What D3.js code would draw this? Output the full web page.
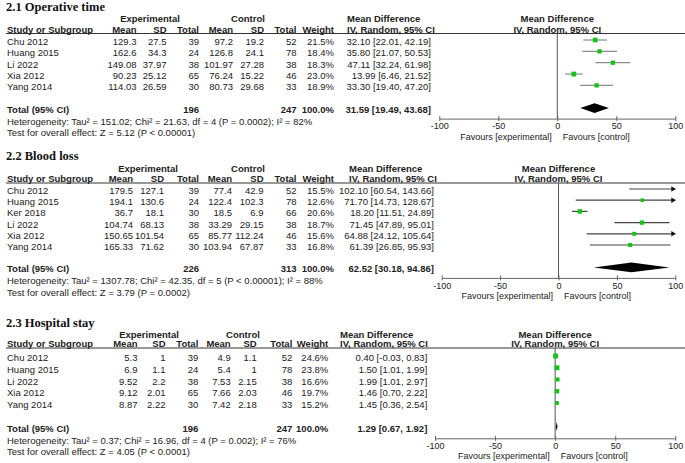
<!DOCTYPE html>
<html>
<head>
<meta charset="utf-8">
<script src="https://cdn.jsdelivr.net/npm/d3@7"></script>
<style>
  body { margin: 0; background: #fff; }
  text { font-family: "Liberation Sans", Arial, sans-serif; font-size: 9.5px; fill: #222; }
  .title { font-family: "Liberation Serif", "Times New Roman", serif; font-size: 12.5px; font-weight: bold; fill: #111; }
  .b { font-weight: bold; }
  .small { font-size: 9px; }
</style>
</head>
<body>
<svg id="chart"></svg>
<script>
const titles = ["2.1 Operative time", "2.2 Blood loss", "2.3 Hospital stay"];
const axisTicks = [-100, -50, 0, 50, 100];

// 2.1 Operative time
const opStudy = ["Chu 2012", "Huang 2015", "Li 2022", "Xia 2012", "Yang 2014"];
const opExpMean = [129.3, 162.6, 149.08, 90.23, 114.03];
const opExpSD = [27.5, 34.3, 37.97, 25.12, 26.59];
const opExpN = [39, 24, 38, 65, 30];
const opCtlMean = [97.2, 126.8, 101.97, 76.24, 80.73];
const opCtlSD = [19.2, 24.1, 27.28, 15.22, 29.68];
const opCtlN = [52, 78, 38, 46, 33];
const opWeight = [21.5, 18.4, 18.3, 23.0, 18.9];
const opMD = [32.10, 35.80, 47.11, 13.99, 33.30];
const opLo = [22.01, 21.07, 32.24, 6.46, 19.40];
const opHi = [42.19, 50.53, 61.98, 21.52, 47.20];
const opTotalN = [196, 247];
const opTotalMD = [31.59, 19.49, 43.68];
const opHet = "Heterogeneity: Tau² = 151.02; Chi² = 21.63, df = 4 (P = 0.0002); I² = 82%";
const opTest = "Test for overall effect: Z = 5.12 (P < 0.00001)";

// 2.2 Blood loss
const blStudy = ["Chu 2012", "Huang 2015", "Ker 2018", "Li 2022", "Xia 2012", "Yang 2014"];
const blExpMean = [179.5, 194.1, 36.7, 104.74, 150.65, 165.33];
const blExpSD = [127.1, 130.6, 18.1, 68.13, 101.54, 71.62];
const blExpN = [39, 24, 30, 38, 65, 30];
const blCtlMean = [77.4, 122.4, 18.5, 33.29, 85.77, 103.94];
const blCtlSD = [42.9, 102.3, 6.9, 29.15, 112.24, 67.87];
const blCtlN = [52, 78, 66, 38, 46, 33];
const blWeight = [15.5, 12.6, 20.6, 18.7, 15.6, 16.8];
const blMD = [102.10, 71.70, 18.20, 71.45, 64.88, 61.39];
const blLo = [60.54, 14.73, 11.51, 47.89, 24.12, 26.85];
const blHi = [143.66, 128.67, 24.89, 95.01, 105.64, 95.93];
const blTotalN = [226, 313];
const blTotalMD = [62.52, 30.18, 94.86];
const blHet = "Heterogeneity: Tau² = 1307.78; Chi² = 42.35, df = 5 (P < 0.00001); I² = 88%";
const blTest = "Test for overall effect: Z = 3.79 (P = 0.0002)";

// 2.3 Hospital stay
const hsStudy = ["Chu 2012", "Huang 2015", "Li 2022", "Xia 2012", "Yang 2014"];
const hsExpMean = [5.3, 6.9, 9.52, 9.12, 8.87];
const hsExpSD = [1, 1.1, 2.2, 2.01, 2.22];
const hsExpN = [39, 24, 38, 65, 30];
const hsCtlMean = [4.9, 5.4, 7.53, 7.66, 7.42];
const hsCtlSD = [1.1, 1, 2.15, 2.03, 2.18];
const hsCtlN = [52, 78, 38, 46, 33];
const hsWeight = [24.6, 23.8, 16.6, 19.7, 15.2];
const hsMD = [0.40, 1.50, 1.99, 1.46, 1.45];
const hsLo = [-0.03, 1.01, 1.01, 0.70, 0.36];
const hsHi = [0.83, 1.99, 2.97, 2.22, 2.54];
const hsTotalN = [196, 247];
const hsTotalMD = [1.29, 0.67, 1.92];
const hsHet = "Heterogeneity: Tau² = 0.37; Chi² = 16.96, df = 4 (P = 0.002); I² = 76%";
const hsTest = "Test for overall effect: Z = 4.05 (P < 0.0001)";

const width = 685, height = 463;
const svg = d3.select("#chart").attr("width", width).attr("height", height);

function rows(study, em, es, en, cm, cs, cn, w, md, lo, hi) {
  return study.map((s, i) => ({
    study: s, cells: [em[i], es[i], en[i], cm[i], cs[i], cn[i], w[i].toFixed(1) + "%"],
    weight: w[i], md: md[i], lo: lo[i], hi: hi[i]
  }));
}

const panels = [
  { title: titles[0], rows: rows(opStudy, opExpMean, opExpSD, opExpN, opCtlMean, opCtlSD, opCtlN, opWeight, opMD, opLo, opHi),
    totalN: opTotalN, totalMD: opTotalMD, het: opHet, test: opTest,
    L: 33.5, row0: 40, step: 11.35, titleUp: 23, groupUp: 12,
    cols: [136.5, 166.5, 199, 233, 264, 296.5, 334], mdX: 431, mdHeadX: 347,
    range: [439.3, 675.3], expC: 150, ctlC: 248, ci: "#8c8c8c", axisGap: 10.5 },
  { title: titles[1], rows: rows(blStudy, blExpMean, blExpSD, blExpN, blCtlMean, blCtlSD, blCtlN, blWeight, blMD, blLo, blHi),
    totalN: blTotalN, totalMD: blTotalMD, het: blHet, test: blTest,
    L: 183, row0: 189, step: 11.2, titleUp: 23, groupUp: 11.5,
    cols: [133, 164, 199, 232, 263.5, 296.5, 334], mdX: 434, mdHeadX: 349,
    range: [441.7, 675.3], expC: 148, ctlC: 248, ci: "#444", axisGap: 10.5 },
  { title: titles[2], rows: rows(hsStudy, hsExpMean, hsExpSD, hsExpN, hsCtlMean, hsCtlSD, hsCtlN, hsWeight, hsMD, hsLo, hsHi),
    totalN: hsTotalN, totalMD: hsTotalMD, het: hsHet, test: hsTest,
    L: 348, row0: 356, step: 11.75, titleUp: 21, groupUp: 10.5,
    cols: [137.5, 165.5, 198.3, 230.7, 256.7, 292.3, 328.3], mdX: 427.3, mdHeadX: 340,
    range: [435, 675.3], expC: 149, ctlC: 243, ci: "#555", axisGap: 11.8 }
];

const fmtCI = (m, l, h) => `${m.toFixed(2)} [${l.toFixed(2)}, ${h.toFixed(2)}]`;

panels.forEach(p => {
  const g = svg.append("g");
  const x = d3.scaleLinear().domain([-100, 100]).range(p.range);
  const x0 = x(0);
  const y = i => p.row0 + i * p.step;
  const totalY = y(p.rows.length + 1);
  const axisY = totalY + p.axisGap;

  // headings
  g.append("text").attr("class", "title").attr("x", 6).attr("y", p.L - p.titleUp).text(p.title);
  const gy = p.L - p.groupUp;
  g.append("text").attr("class", "b").attr("x", p.expC).attr("y", gy).attr("text-anchor", "middle").text("Experimental");
  g.append("text").attr("class", "b").attr("x", p.ctlC).attr("y", gy).attr("text-anchor", "middle").text("Control");
  g.append("text").attr("class", "b").attr("x", p.mdHeadX).attr("y", gy).text("Mean Difference");
  g.append("text").attr("class", "b").attr("x", x0).attr("y", gy).attr("text-anchor", "middle").text("Mean Difference");

  const hy = p.L - 0.8;
  g.append("text").attr("class", "b").attr("x", 7).attr("y", hy).text("Study or Subgroup");
  ["Mean", "SD", "Total", "Mean", "SD", "Total", "Weight"].forEach((h, j) => {
    g.append("text").attr("class", "b").attr("x", p.cols[j]).attr("y", hy).attr("text-anchor", "end").text(h);
  });
  g.append("text").attr("class", "b").attr("x", p.mdHeadX).attr("y", hy).text("IV, Random, 95% CI");
  g.append("text").attr("class", "b").attr("x", x0).attr("y", hy).attr("text-anchor", "middle").text("IV, Random, 95% CI");

  g.append("line").attr("x1", 6).attr("x2", width).attr("y1", p.L).attr("y2", p.L)
    .attr("stroke", "#333").attr("stroke-width", 1);

  // study rows
  p.rows.forEach((r, i) => {
    const ty = y(i) + 5;
    g.append("text").attr("x", 7).attr("y", ty).text(r.study);
    r.cells.forEach((c, j) => {
      g.append("text").attr("x", p.cols[j]).attr("y", ty).attr("text-anchor", "end").text(c);
    });
    g.append("text").attr("x", p.mdX).attr("y", ty).attr("text-anchor", "end").text(fmtCI(r.md, r.lo, r.hi));
  });

  // total rows
  const tty = totalY + 5;
  g.append("text").attr("class", "b").attr("x", 7).attr("y", tty).text("Total (95% CI)");
  g.append("text").attr("class", "b").attr("x", p.cols[2]).attr("y", tty).attr("text-anchor", "end").text(p.totalN[0]);
  g.append("text").attr("class", "b").attr("x", p.cols[5]).attr("y", tty).attr("text-anchor", "end").text(p.totalN[1]);
  g.append("text").attr("class", "b").attr("x", p.cols[6]).attr("y", tty).attr("text-anchor", "end").text("100.0%");
  g.append("text").attr("class", "b").attr("x", p.mdX).attr("y", tty).attr("text-anchor", "end")
    .text(fmtCI(p.totalMD[0], p.totalMD[1], p.totalMD[2]));
  g.append("text").attr("x", 7).attr("y", totalY + 17).text(p.het);
  g.append("text").attr("x", 7).attr("y", totalY + 28.3).text(p.test);

  // zero line
  g.append("line").attr("x1", x0).attr("x2", x0).attr("y1", p.L).attr("y2", axisY)
    .attr("stroke", "#555").attr("stroke-width", 1);

  // confidence intervals
  const [dmin, dmax] = x.domain();
  p.rows.forEach((r, i) => {
    const yy = y(i);
    const lo = Math.max(r.lo, dmin), hi = Math.min(r.hi, dmax);
    g.append("line").attr("x1", x(lo)).attr("x2", x(hi)).attr("y1", yy).attr("y2", yy)
      .attr("stroke", p.ci).attr("stroke-width", 1.2);
    if (r.hi > dmax) {
      const ax = x(dmax);
      g.append("path").attr("d", `M${ax - 4},${yy - 2.8}L${ax + 0.5},${yy}L${ax - 4},${yy + 2.8}Z`).attr("fill", "#111");
    }
    if (r.md >= dmin && r.md <= dmax) {
      const s = Math.sqrt(r.weight);
      g.append("rect").attr("x", x(r.md) - s / 2).attr("y", yy - s / 2).attr("width", s).attr("height", s)
        .attr("fill", "#14c414");
    }
  });

  // pooled diamond
  const [m, l, h] = p.totalMD;
  g.append("path")
    .attr("d", `M${x(l)},${totalY}L${x(m)},${totalY - 4.8}L${x(h)},${totalY}L${x(m)},${totalY + 4.8}Z`)
    .attr("fill", "#000");

  // axis
  const ax = g.append("g").attr("transform", `translate(0,${axisY})`)
    .call(d3.axisBottom(x).tickValues(axisTicks).tickFormat(d3.format("d")).tickSizeOuter(0));
  ax.attr("font-size", null).attr("font-family", null);
  ax.select(".domain").attr("stroke", "#666");
  ax.selectAll(".tick line").attr("y1", -2.5).attr("y2", 2.5).attr("stroke", "#666");
  ax.selectAll(".tick text").attr("class", "small").attr("y", 7.5).attr("dy", "0.35em").text(d => d);

  const fy = axisY + 21;
  g.append("text").attr("class", "small").attr("x", x0 - 5.5).attr("y", fy).attr("text-anchor", "end").text("Favours [experimental]");
  g.append("text").attr("class", "small").attr("x", x0 + 5.5).attr("y", fy).text("Favours [control]");
});
</script>
</body>
</html>
